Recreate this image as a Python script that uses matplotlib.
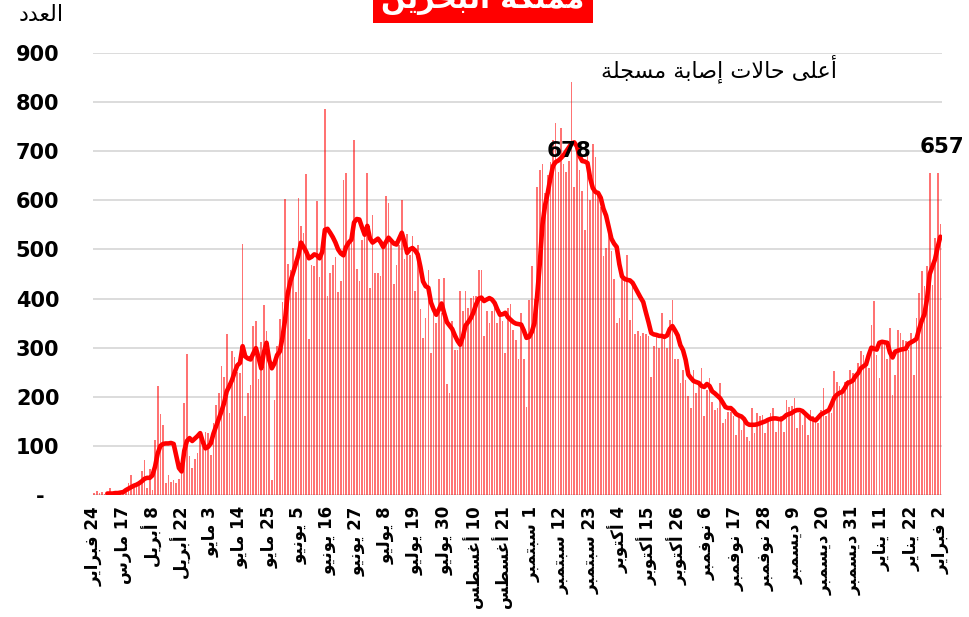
import matplotlib.pyplot as plt
import numpy as np

# daily new cases (bars), one value per reported day
cases = [
    5, 8, 4, 6, 2, 3, 14, 3, 2, 4,
    3, 6, 12, 24, 41, 18, 20, 28, 49, 71,
    14, 53, 10, 112, 222, 165, 143, 24, 41, 27,
    30, 24, 32, 44, 187, 288, 80, 56, 73, 85,
    119, 112, 129, 126, 82, 146, 184, 207, 262, 241,
    327, 167, 293, 282, 250, 248, 512, 161, 207, 224,
    345, 354, 237, 311, 386, 333, 276, 31, 193, 303,
    358, 394, 603, 471, 459, 503, 413, 604, 547, 534,
    653, 317, 469, 467, 598, 443, 513, 785, 406, 452,
    469, 485, 413, 435, 642, 655, 510, 520, 722, 461,
    435, 520, 540, 655, 422, 571, 452, 452, 446, 507,
    609, 595, 514, 429, 469, 510, 600, 480, 531, 488,
    527, 415, 510, 378, 320, 361, 459, 289, 378, 350,
    439, 371, 442, 227, 207, 354, 296, 296, 415, 374,
    415, 381, 401, 405, 405, 459, 459, 323, 374, 350,
    374, 386, 350, 364, 354, 289, 381, 388, 337, 316,
    276, 371, 276, 180, 397, 466, 400, 627, 661, 675,
    614, 651, 678, 722, 757, 658, 747, 675, 658, 681,
    841, 627, 715, 661, 620, 539, 698, 600, 715, 688,
    610, 586, 486, 503, 531, 497, 439, 350, 361, 439,
    441, 488, 357, 429, 327, 333, 323, 330, 327, 323,
    241, 303, 323, 299, 371, 320, 299, 357, 398, 276,
    276, 228, 255, 235, 201, 177, 255, 207, 228, 259,
    160, 214, 238, 190, 173, 177, 228, 146, 154, 170,
    170, 160, 122, 160, 133, 150, 119, 109, 177, 127,
    167, 160, 163, 126, 153, 167, 177, 129, 153, 160,
    129, 194, 180, 181, 197, 136, 167, 143, 167, 122,
    173, 160, 156, 146, 173, 218, 160, 177, 167, 252,
    231, 221, 211, 231, 235, 255, 248, 235, 269, 293,
    286, 269, 259, 347, 395, 286, 238, 316, 313, 276,
    340, 204, 245, 337, 330, 316, 313, 296, 330, 245,
    361, 412, 456, 425, 466, 655, 428, 524, 656, 551,
]

# average line (starts a few days in)
average = [
    None, None, None, None, None, 3, 3, 3, 4, 4,
    5, 6, 10, 13, 16, 19, 21, 24, 28, 33,
    35, 35, 40, 58, 85, 100, 104, 105, 105, 106,
    104, 80, 55, 48, 90, 110, 116, 110, 115, 120,
    126, 108, 95, 98, 105, 125, 140, 155, 170, 187,
    211, 222, 234, 250, 264, 269, 303, 282, 278, 276,
    288, 299, 280, 258, 290, 310, 275, 258, 268, 285,
    292, 320, 357, 410, 435, 452, 470, 488, 514, 505,
    495, 482, 485, 490, 488, 482, 495, 540, 542, 534,
    525, 514, 500, 492, 488, 505, 514, 520, 555, 562,
    561, 545, 530, 548, 522, 514, 518, 522, 515, 505,
    515, 524, 518, 512, 510, 522, 534, 515, 493, 500,
    503, 498, 490, 465, 435, 425, 422, 392, 378, 367,
    378, 390, 370, 352, 345, 338, 325, 314, 306, 322,
    345, 352, 360, 372, 388, 400, 402, 395, 398, 401,
    398, 391, 378, 367, 368, 371, 362, 357, 352, 349,
    348, 347, 335, 320, 322, 332, 350, 405, 470, 550,
    590, 615, 645, 670, 678, 681, 686, 692, 700, 708,
    716, 718, 710, 690, 680, 679, 676, 645, 625, 617,
    615, 605, 583, 569, 545, 522, 512, 505, 470, 445,
    440, 438, 437, 432, 422, 412, 402, 393, 372, 352,
    330, 327, 326, 324, 324, 322, 325, 338, 344, 335,
    325, 305, 295, 275, 245, 238, 232, 230, 228, 222,
    220, 226, 222, 211, 207, 202, 197, 188, 179, 177,
    177, 172, 165, 162, 160, 155, 146, 143, 143, 143,
    144, 146, 148, 150, 153, 155, 156, 156, 155, 154,
    158, 163, 165, 167, 171, 173, 173, 171, 166, 161,
    156, 154, 152, 158, 164, 167, 170, 173, 185, 198,
    204, 208, 210, 218, 228, 230, 233, 242, 248, 258,
    262, 266, 285, 300, 298, 296, 310, 312, 311, 310,
    290, 280, 292, 294, 296, 297, 298, 308, 311, 314,
    318, 338, 355, 368, 400, 450, 465, 480, 505, 526,
]

# x labels: one every 11 reported days
label_days = [24, 17, 8, 22, 3, 14, 25, 5, 16, 27, 8, 19, 30, 10, 21,
              1, 12, 23, 4, 15, 26, 6, 17, 28, 9, 20, 31, 11, 22, 2]
label_months = ['فبراير', 'مارس', 'أبريل', 'أبريل', 'مايو', 'مايو', 'مايو',
                'يونيو', 'يونيو', 'يونيو', 'يوليو', 'يوليو', 'يوليو',
                'أغسطس', 'أغسطس', 'سبتمبر', 'سبتمبر', 'سبتمبر',
                'أكتوبر', 'أكتوبر', 'أكتوبر', 'نوفمبر', 'نوفمبر', 'نوفمبر',
                'ديسمبر', 'ديسمبر', 'ديسمبر', 'يناير', 'يناير', 'فبراير']

peak_labels = ['678', '657']

title = 'مملكة البحرين'
y_title = 'العدد'
note = 'أعلى حالات إصابة مسجلة'


# --- minimal arabic shaping (matplotlib does not join arabic letters) ---
FOUR = {'ئ': 0xFE89, 'ب': 0xFE8F, 'ت': 0xFE95, 'ث': 0xFE99, 'ج': 0xFE9D,
        'ح': 0xFEA1, 'خ': 0xFEA5, 'س': 0xFEB1, 'ش': 0xFEB5, 'ص': 0xFEB9,
        'ض': 0xFEBD, 'ط': 0xFEC1, 'ظ': 0xFEC5, 'ع': 0xFEC9, 'غ': 0xFECD,
        'ف': 0xFED1, 'ق': 0xFED5, 'ك': 0xFED9, 'ل': 0xFEDD, 'م': 0xFEE1,
        'ن': 0xFEE5, 'ه': 0xFEE9, 'ي': 0xFEF1}
TWO = {'آ': 0xFE81, 'أ': 0xFE83, 'ؤ': 0xFE85, 'إ': 0xFE87, 'ا': 0xFE8D,
       'ة': 0xFE93, 'د': 0xFEA9, 'ذ': 0xFEAB, 'ر': 0xFEAD, 'ز': 0xFEAF,
       'و': 0xFEED, 'ى': 0xFEEF}
LAM_ALEF = {'آ': 0xFEF5, 'أ': 0xFEF7, 'إ': 0xFEF9, 'ا': 0xFEFB}


def arabic(text):
    """Shape arabic letters and return them in visual (left to right) order."""
    tokens = []
    i = 0
    while i < len(text):
        c = text[i]
        if c == 'ل' and i + 1 < len(text) and text[i + 1] in LAM_ALEF:
            tokens.append(('LA', text[i + 1]))
            i += 2
        else:
            tokens.append(c)
            i += 1

    def is_letter(t):
        return isinstance(t, tuple) or t in FOUR or t in TWO

    out = []
    for k, t in enumerate(tokens):
        prev = tokens[k - 1] if k > 0 else None
        nxt = tokens[k + 1] if k + 1 < len(tokens) else None
        joins_prev = isinstance(prev, str) and prev in FOUR
        if isinstance(t, tuple):
            out.append(chr(LAM_ALEF[t[1]] + (1 if joins_prev else 0)))
        elif t in FOUR:
            joins_next = nxt is not None and is_letter(nxt)
            base = FOUR[t]
            if joins_prev and joins_next:
                out.append(chr(base + 3))
            elif joins_prev:
                out.append(chr(base + 1))
            elif joins_next:
                out.append(chr(base + 2))
            else:
                out.append(chr(base))
        elif t in TWO:
            out.append(chr(TWO[t] + (1 if joins_prev else 0)))
        else:
            out.append(t)
    return ''.join(out)[::-1]


fig = plt.figure(figsize=(9.69, 6.17), dpi=100)
ax = fig.add_axes([0.0957, 0.1977, 0.8761, 0.7164])

x = np.arange(len(cases))
avg = np.array([np.nan if v is None else v for v in average], dtype=float)

ax.bar(x, cases, width=0.62, color='red', alpha=0.55, linewidth=0, zorder=2)
ax.plot(x, avg, color='#ff0000', lw=3.3, solid_joinstyle='round',
        solid_capstyle='round', zorder=3)

ax.set_xlim(-0.5, len(cases) - 0.5)
ax.set_ylim(0, 900)

# y axis: excel style, zero shown as a dash
ax.set_yticks(range(0, 1000, 100))
ax.set_yticklabels(['-  '] + [str(v) for v in range(100, 1000, 100)],
                   fontsize=15, fontweight='bold')
ax.yaxis.grid(True, color='#d9d9d9', lw=1.3, zorder=0)
ax.set_axisbelow(True)

# x axis: every 11th day
tick_pos = x[::11]
tick_txt = [arabic(m) + ' ' + str(d) for d, m in zip(label_days, label_months)]
ax.set_xticks(tick_pos)
ax.set_xticklabels(tick_txt, rotation=90, fontsize=12, fontweight='bold',
                   va='top', ha='center')

ax.tick_params(axis='both', length=0)
ax.tick_params(axis='y', pad=24)
ax.tick_params(axis='x', pad=8)
for s in ax.spines.values():
    s.set_visible(False)

# peak values
ax.text(179, 700, peak_labels[0], fontsize=15.5, fontweight='bold',
        ha='center', va='center', zorder=4)
ax.text(319.5, 708, peak_labels[1], fontsize=15.5, fontweight='bold',
        ha='center', va='center', clip_on=False, zorder=4)

# annotation and y title
fig.text(719 / 969, 1 - 69 / 617, arabic(note), fontsize=16,
         ha='center', va='center')
fig.text(41 / 969, 1 - 15 / 617, arabic(y_title), fontsize=16,
         ha='center', va='center')

# red title box, cut by the top edge like the original
fig.text(483 / 969, 1 - 0 / 617, arabic(title), fontsize=21,
         fontweight='bold', color='white', ha='center', va='center',
         bbox=dict(boxstyle='square,pad=0.3', fc='#ff0000', ec='none'))

fig.savefig('out.png', dpi=100)
